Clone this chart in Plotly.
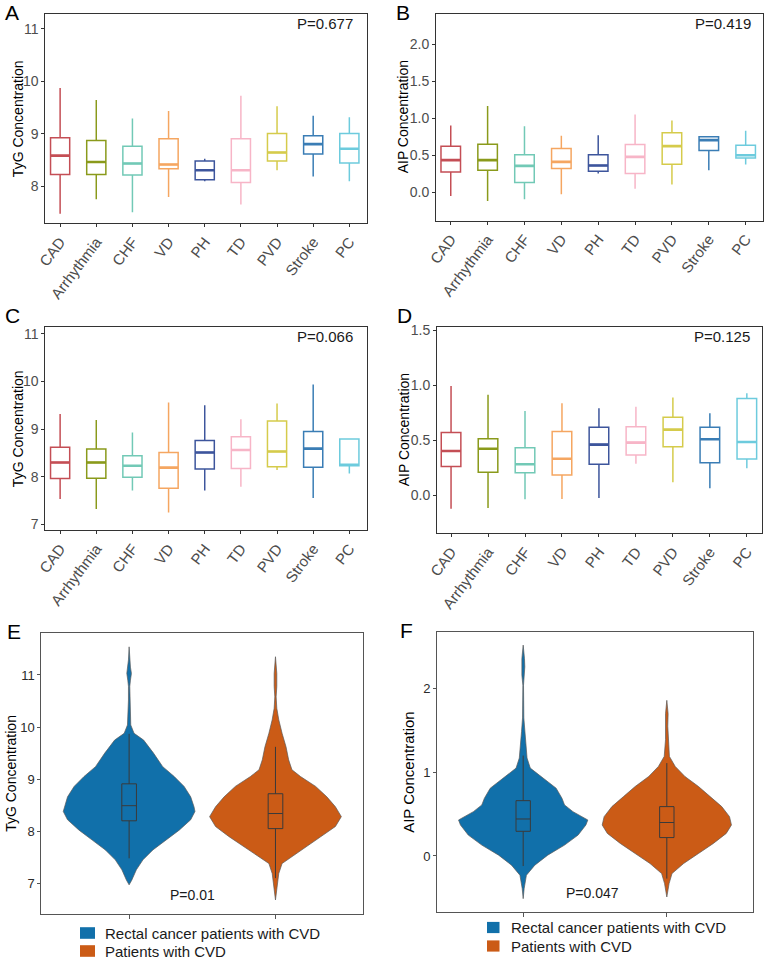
import plotly.graph_objects as go

W, H = 765, 961
FONT = "Liberation Sans, Arial, sans-serif"

cats = ["CAD", "Arrhythmia", "CHF", "VD", "PH", "TD", "PVD", "Stroke", "PC"]
cat_colors = ["#C44E55", "#8A9A1B", "#72C9B6", "#F5A661", "#3D559C",
              "#F7B5C7", "#D5CB4B", "#3A7DB5", "#6DCBDD"]

# Panel A: TyG by CVD type
a_low = [7.47, 7.75, 7.50, 7.79, 8.09, 7.65, 8.30, 8.18, 8.09]
a_q1 = [8.22, 8.22, 8.21, 8.33, 8.12, 8.07, 8.48, 8.61, 8.44]
a_med = [8.58, 8.46, 8.43, 8.41, 8.30, 8.30, 8.64, 8.80, 8.71]
a_q3 = [8.92, 8.87, 8.76, 8.90, 8.48, 8.90, 9.00, 8.96, 9.00]
a_high = [9.87, 9.64, 9.29, 9.43, 8.52, 9.72, 9.52, 9.34, 9.31]

# Panel B: AIP by CVD type
b_low = [-0.045, -0.113, -0.09, -0.023, 0.257, 0.05, 0.108, 0.302, 0.378]
b_q1 = [0.279, 0.302, 0.135, 0.324, 0.288, 0.257, 0.383, 0.568, 0.468]
b_med = [0.437, 0.437, 0.36, 0.414, 0.365, 0.482, 0.626, 0.707, 0.504]
b_q3 = [0.626, 0.653, 0.509, 0.595, 0.509, 0.649, 0.806, 0.752, 0.64]
b_high = [0.905, 1.167, 0.896, 0.766, 0.775, 1.054, 0.973, 0.752, 0.833]

# Panel C: TyG by CVD type
c_low = [7.53, 7.32, 7.71, 7.25, 7.71, 7.79, 8.14, 7.55, 8.07]
c_q1 = [7.96, 7.97, 7.99, 7.76, 8.16, 8.17, 8.21, 8.20, 8.23]
c_med = [8.30, 8.30, 8.23, 8.19, 8.51, 8.56, 8.53, 8.59, 8.25]
c_q3 = [8.62, 8.58, 8.44, 8.51, 8.76, 8.84, 9.17, 8.95, 8.79]
c_high = [9.32, 9.19, 8.93, 9.56, 9.50, 9.21, 9.54, 9.94, 8.79]

# Panel D: AIP by CVD type
d_low = [-0.121, -0.115, -0.036, -0.033, -0.024, 0.288, 0.118, 0.064, 0.245]
d_q1 = [0.261, 0.209, 0.206, 0.185, 0.282, 0.367, 0.442, 0.297, 0.330]
d_med = [0.403, 0.424, 0.282, 0.333, 0.461, 0.479, 0.597, 0.509, 0.485]
d_q3 = [0.570, 0.515, 0.433, 0.579, 0.618, 0.624, 0.709, 0.618, 0.879]
d_high = [0.994, 0.915, 0.767, 0.836, 0.791, 0.806, 0.888, 0.745, 0.927]

p_values = ["P=0.677", "P=0.419", "P=0.066", "P=0.125", "P=0.01", "P=0.047"]

groups = ["Rectal cancer patients with CVD", "Patients with CVD"]
group_colors = ["#1170AA", "#CB5B16"]

# Panel E violins (TyG): levels and relative half-widths
e_blue_y = [6.97, 7.06, 7.26, 7.45, 7.64, 7.83, 8.02, 8.22, 8.38, 8.47, 8.66, 8.86,
            9.05, 9.24, 9.50, 9.75, 9.88, 10.04, 10.52, 10.78, 10.9, 11.03, 11.15, 11.29, 11.54]
e_blue_w = [0.0, 0.04, 0.11, 0.21, 0.36, 0.56, 0.76, 0.935, 1.0, 0.985, 0.935, 0.835,
            0.685, 0.51, 0.37, 0.22, 0.075, 0.025, 0.01, 0.01, 0.02, 0.035, 0.02, 0.01, 0.0]
e_orng_y = [6.68, 6.94, 7.19, 7.38, 7.51, 7.70, 7.90, 8.09, 8.28, 8.47, 8.66, 8.86,
            9.05, 9.18, 9.37, 9.62, 9.88, 10.14, 10.36, 10.58, 10.78, 11.03, 11.35]
e_orng_w = [0.0, 0.025, 0.05, 0.10, 0.25, 0.48, 0.71, 0.91, 1.0, 0.91, 0.78, 0.61,
            0.38, 0.25, 0.20, 0.16, 0.10, 0.05, 0.02, 0.01, 0.02, 0.02, 0.0]
# Panel F violins (AIP)
f_blue_y = [-0.51, -0.39, -0.23, -0.11, 0.01, 0.13, 0.25, 0.37, 0.43, 0.53, 0.61, 0.69,
            0.81, 0.93, 1.05, 1.17, 1.33, 1.49, 1.65, 2.04, 2.16, 2.26, 2.36, 2.52]
f_blue_w = [0.0, 0.015, 0.05, 0.18, 0.38, 0.64, 0.85, 0.97, 1.0, 0.77, 0.64, 0.6,
            0.51, 0.31, 0.11, 0.06, 0.04, 0.025, 0.01, 0.005, 0.02, 0.025, 0.02, 0.0]
f_orng_y = [-0.49, -0.33, -0.21, -0.09, 0.03, 0.15, 0.27, 0.37, 0.47, 0.59, 0.71, 0.83,
            0.95, 1.07, 1.19, 1.39, 1.55, 1.70, 1.86]
f_orng_w = [0.0, 0.035, 0.08, 0.26, 0.49, 0.72, 0.92, 1.0, 0.97, 0.85, 0.67, 0.49,
            0.28, 0.13, 0.04, 0.02, 0.015, 0.02, 0.0]

# Box statistics inside violins: [blue, orange]
e_low = [7.48, 7.10]
e_q1 = [8.20, 8.05]
e_med = [8.49, 8.34]
e_q3 = [8.91, 8.72]
e_high = [9.87, 9.62]
f_low = [-0.12, -0.27]
f_q1 = [0.295, 0.22]
f_med = [0.442, 0.40]
f_q3 = [0.661, 0.59]
f_high = [1.20, 1.11]


def px_x(p):
    return p / W


def px_y(p):
    return 1 - p / H


fig = go.Figure()

panels = [
    ("x", "y", a_low, a_q1, a_med, a_q3, a_high),
    ("x2", "y2", b_low, b_q1, b_med, b_q3, b_high),
    ("x3", "y3", c_low, c_q1, c_med, c_q3, c_high),
    ("x4", "y4", d_low, d_q1, d_med, d_q3, d_high),
]
BOXW = 0.53
for xa, ya, lo, q1, med, q3, hi in panels:
    for i, cat in enumerate(cats):
        fig.add_trace(go.Box(
            x=[i], lowerfence=[lo[i]], q1=[q1[i]], median=[med[i]], q3=[q3[i]],
            upperfence=[hi[i]], width=BOXW, whiskerwidth=0, boxpoints=False,
            fillcolor="white", line=dict(color=cat_colors[i], width=1.5),
            name=cat, showlegend=False, hoverinfo="skip", xaxis=xa, yaxis=ya))
        fig.add_trace(go.Scatter(
            x=[i - BOXW / 2, i + BOXW / 2], y=[med[i], med[i]], mode="lines",
            line=dict(color=cat_colors[i], width=2.6), showlegend=False,
            hoverinfo="skip", xaxis=xa, yaxis=ya))

VSCALE = 0.45
violins = [
    ("x5", "y5", 0, e_blue_y, e_blue_w, group_colors[0], groups[0]),
    ("x5", "y5", 1, e_orng_y, e_orng_w, group_colors[1], groups[1]),
    ("x6", "y6", 0, f_blue_y, f_blue_w, group_colors[0], groups[0]),
    ("x6", "y6", 1, f_orng_y, f_orng_w, group_colors[1], groups[1]),
]
for xa, ya, c, yy, ww, col, nm in violins:
    xs = [c + VSCALE * w for w in ww] + [c - VSCALE * w for w in ww[::-1]]
    ys = list(yy) + list(yy[::-1])
    fig.add_trace(go.Scatter(
        x=xs, y=ys, mode="lines", fill="toself", fillcolor=col, name=nm,
        line=dict(color="#5a5a5a", width=0.7), showlegend=False,
        hoverinfo="skip", xaxis=xa, yaxis=ya))

# Boxes inside violins (drawn as lines so they sit on top of the fill)
VBW = 0.1
for xa, ya, lo, q1, med, q3, hi in [("x5", "y5", e_low, e_q1, e_med, e_q3, e_high),
                                     ("x6", "y6", f_low, f_q1, f_med, f_q3, f_high)]:
    for i in range(2):
        bx = [i, i, None, i, i, None,
              i - VBW / 2, i + VBW / 2, i + VBW / 2, i - VBW / 2, i - VBW / 2, None,
              i - VBW / 2, i + VBW / 2]
        by = [lo[i], q1[i], None, q3[i], hi[i], None,
              q1[i], q1[i], q3[i], q3[i], q1[i], None,
              med[i], med[i]]
        fig.add_trace(go.Scatter(
            x=bx, y=by, mode="lines", line=dict(color="#3a3a3a", width=1),
            showlegend=False, hoverinfo="skip", xaxis=xa, yaxis=ya))

# Axes layout
doms = {
    1: ((45.3, 366.7), (14, 223.3), (-0.41, 8.48), (7.29, 11.28)),
    2: ((436, 763), (14, 220.7), (-0.40, 8.47), (-0.38, 2.41)),
    3: ((45.3, 366.7), (327.3, 530), (-0.41, 8.48), (6.88, 11.14)),
    4: ((437, 762), (327.3, 533.3), (-0.38, 8.41), (-0.345, 1.527)),
    5: ((41.3, 363.3), (633.3, 914.3), (-0.6, 1.6), (6.405, 11.8)),
    6: ((437, 753), (632.3, 912.3), (-0.6, 1.6), (-0.673, 2.673)),
}
ytitles = {1: "TyG Concentration", 2: "AIP Concentration", 3: "TyG Concentration",
           4: "AIP Concentration", 5: "TyG Concentration", 6: "AIP Concentration"}
ytitle_x = {1: 17.5, 2: 403, 3: 17.5, 4: 404, 5: 11, 6: 408.5}
ytickvals = {1: [8, 9, 10, 11], 2: [0, 0.5, 1.0, 1.5, 2.0], 3: [7, 8, 9, 10, 11],
             4: [0, 0.5, 1.0, 1.5], 5: [7, 8, 9, 10, 11], 6: [0, 1, 2]}
title_sizes = {1: 14, 2: 14, 3: 14, 4: 14, 5: 14, 6: 15}
lay = {}
annotations = []
for k, ((x0, x1), (y0, y1), xr, yr) in doms.items():
    sfx = "" if k == 1 else str(k)
    small = k >= 5
    lcol = "#555555" if small else "#333333"
    xax = dict(domain=[px_x(x0), px_x(x1)], range=list(xr), anchor="y" + sfx,
               showline=True, mirror=True, linecolor=lcol, linewidth=1,
               showgrid=False, zeroline=False, ticks="outside", ticklen=3,
               tickcolor=lcol, fixedrange=True)
    if small:
        xax.update(tickvals=[0, 1], showticklabels=False, ticklen=4)
    else:
        xax.update(tickvals=list(range(len(cats))), ticktext=cats, tickangle=-53,
                   tickfont=dict(size=15, color="#4D4D4D", family=FONT))
    yax = dict(domain=[px_y(y1), px_y(y0)], range=list(yr), anchor="x" + sfx,
               showline=True, mirror=True, linecolor=lcol, linewidth=1,
               showgrid=False, zeroline=False, ticks="outside", ticklen=3,
               tickcolor=lcol, tickvals=ytickvals[k], fixedrange=True,
               tickfont=dict(size=14 if not small else 13,
                             color="#4D4D4D" if not small else "#2a2a2a", family=FONT))
    if k in (2, 4):
        yax["tickformat"] = ".1f"
    lay["xaxis" + sfx] = xax
    lay["yaxis" + sfx] = yax
    # y-axis title placed beside its axis
    annotations.append(dict(text=ytitles[k], x=px_x(ytitle_x[k]), y=px_y((y0 + y1) / 2),
                            xref="paper", yref="paper", textangle=-90,
                            xanchor="center", yanchor="middle", showarrow=False,
                            font=dict(size=title_sizes[k], color="black", family=FONT)))

letters = [("A", 12, 12.5), ("B", 403, 12.5), ("C", 12.5, 315), ("D", 404, 315.5),
           ("E", 13.5, 631), ("F", 406.5, 630.5)]
for t, x, y in letters:
    annotations.append(dict(text=t, x=px_x(x), y=px_y(y), xref="paper", yref="paper",
                            xanchor="center", yanchor="middle", showarrow=False,
                            font=dict(size=21, color="black", family=FONT)))
p_pos = [(355, 24, "right", 15), (753, 24, "right", 15), (355, 336, "right", 15),
         (752, 336, "right", 15), (192.7, 895, "center", 14), (592.7, 892.7, "center", 14)]
for txt, (x, y, anc, fs) in zip(p_values, p_pos):
    annotations.append(dict(text=txt, x=px_x(x), y=px_y(y), xref="paper", yref="paper",
                            xanchor=anc, yanchor="middle", showarrow=False,
                            font=dict(size=fs, color="#1a1a1a", family=FONT)))

# Legends drawn as key squares + text (one per violin panel)
shapes = []
legend_specs = [
    # (square x0, x1, text x, [row centre y], square half-height)
    (80, 95, 103, [933, 951], 5.8),
    (487, 499.5, 509, [927.5, 946], 5.6),
]
for sx0, sx1, tx, rows, hh in legend_specs:
    for g, col, cy in zip(groups, group_colors, rows):
        shapes.append(dict(type="rect", xref="paper", yref="paper",
                           x0=px_x(sx0), x1=px_x(sx1), y0=px_y(cy + hh), y1=px_y(cy - hh),
                           fillcolor=col, line=dict(width=0)))
        annotations.append(dict(text=g, x=px_x(tx), y=px_y(cy), xref="paper", yref="paper",
                                xanchor="left", yanchor="middle", showarrow=False,
                                font=dict(size=15, color="#1a1a1a", family=FONT)))

fig.update_layout(
    width=W, height=H, margin=dict(l=0, r=0, t=0, b=0, autoexpand=False),
    paper_bgcolor="white", plot_bgcolor="white",
    font=dict(family=FONT), showlegend=False,
    annotations=annotations, shapes=shapes,
    **lay,
)

fig.write_html("out.html")
